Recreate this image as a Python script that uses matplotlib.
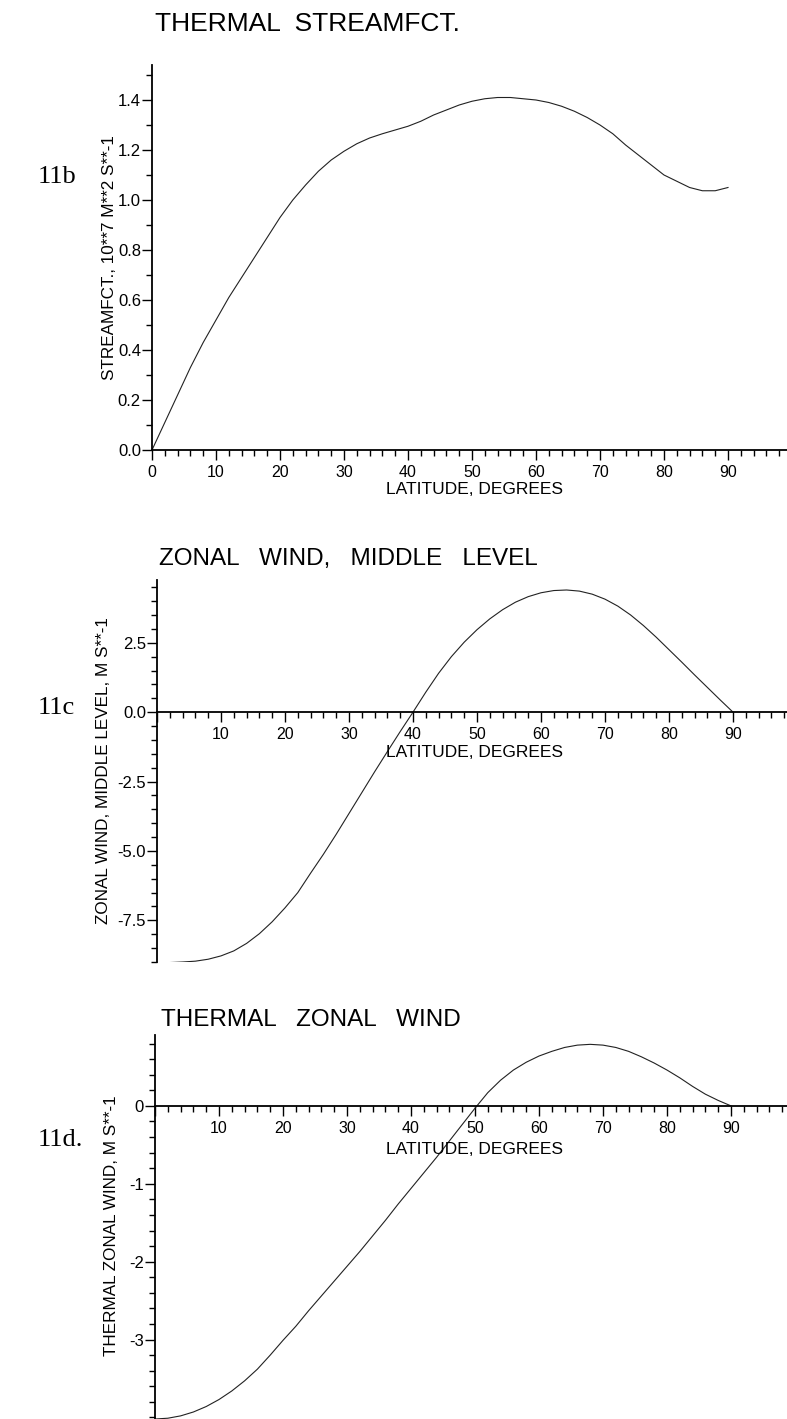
import numpy as np
import matplotlib.pyplot as plt
from matplotlib.ticker import MultipleLocator, FixedLocator

plt.rcParams['font.family'] = 'Liberation Sans'

W, H = 787, 1419

# latitude grid (degrees)
lat = list(range(0, 92, 2))

# 11b: thermal streamfunction, 10**7 m**2 s**-1
stream = [0.0, 0.11, 0.22, 0.33, 0.43, 0.52, 0.61, 0.69, 0.77, 0.85,
          0.93, 1.00, 1.06, 1.115, 1.16, 1.195, 1.225, 1.248, 1.265, 1.28,
          1.295, 1.315, 1.34, 1.36, 1.38, 1.395, 1.405, 1.41, 1.41, 1.405,
          1.40, 1.39, 1.375, 1.355, 1.33, 1.30, 1.265, 1.22, 1.18, 1.14,
          1.10, 1.075, 1.05, 1.037, 1.037, 1.05]

# 11c: zonal wind, middle level, m s**-1
wind_mid = [-9.03, -9.02, -9.0, -8.97, -8.9, -8.78, -8.6, -8.33, -7.98, -7.55,
            -7.05, -6.5, -5.8, -5.12, -4.4, -3.65, -2.9, -2.15, -1.42, -0.7,
            0.0, 0.72, 1.4, 2.0, 2.52, 2.97, 3.36, 3.69, 3.96, 4.16,
            4.3, 4.38, 4.40, 4.36, 4.25, 4.07, 3.82, 3.5, 3.12, 2.7,
            2.25, 1.8, 1.34, 0.89, 0.44, 0.0]

# 11d: thermal zonal wind, m s**-1
wind_th = [-4.02, -4.01, -3.98, -3.93, -3.86, -3.77, -3.66, -3.53, -3.38, -3.20,
           -3.01, -2.83, -2.63, -2.44, -2.25, -2.06, -1.87, -1.67, -1.47, -1.26,
           -1.06, -0.86, -0.66, -0.45, -0.24, -0.03, 0.17, 0.33, 0.46, 0.56,
           0.64, 0.70, 0.75, 0.78, 0.79, 0.78, 0.75, 0.70, 0.63, 0.55,
           0.46, 0.36, 0.25, 0.15, 0.07, 0.0]

xmajor = list(range(0, 100, 10))
xminor = [v for v in range(2, 100, 2) if v % 10]


def axes_px(left, top, bottom):
    return [left / W, 1 - bottom / H, (W - left) / W, (bottom - top) / H]


def fx(x):
    return x / W


def fy(y):
    return 1 - y / H


def style(ax, ylim, ymaj, ymin, ylabels, xlabels, zero_spine):
    ax.set_xlim(0, (W - ax.get_position().x0 * W) / 6.4)
    ax.set_ylim(*ylim)
    for s in ['top', 'right']:
        ax.spines[s].set_visible(False)
    ax.spines['left'].set_linewidth(1.3)
    ax.spines['bottom'].set_linewidth(1.3)
    if zero_spine:
        ax.spines['bottom'].set_position(('data', 0))
    ax.xaxis.set_major_locator(FixedLocator(xmajor))
    ax.xaxis.set_minor_locator(FixedLocator(xminor))
    ax.set_xticklabels(xlabels)
    ax.yaxis.set_major_locator(FixedLocator(ymaj))
    ax.yaxis.set_minor_locator(MultipleLocator(ymin))
    ax.set_yticklabels(ylabels)
    ax.tick_params(axis='y', which='major', length=7, width=1, pad=1, labelsize=12)
    ax.tick_params(axis='y', which='minor', length=4.5, width=1)
    ax.tick_params(axis='x', which='major', length=7, width=1, pad=4, labelsize=11.5)
    ax.tick_params(axis='x', which='minor', length=4.5, width=1)
    ax.patch.set_alpha(0)


fig = plt.figure(figsize=(W / 100, H / 100), dpi=100)

# ---- 11b
ax1 = fig.add_axes(axes_px(152, 65, 450))
ax1.plot(lat, stream, color='#222222', lw=0.8)
style(ax1, (0, 1.54), [0, 0.2, 0.4, 0.6, 0.8, 1.0, 1.2, 1.4], 0.1,
      ['0.0', '0.2', '0.4', '0.6', '0.8', '1.0', '1.2', '1.4'],
      [str(v) for v in xmajor], False)

# ---- 11c
ax2 = fig.add_axes(axes_px(157, 580, 962))
ax2.plot(lat, wind_mid, color='#222222', lw=0.8)
style(ax2, (-9.0, 4.76), [-7.5, -5.0, -2.5, 0.0, 2.5], 0.5,
      ['-7.5', '-5.0', '-2.5', '0.0', '2.5'],
      [''] + [str(v) for v in xmajor[1:]], True)

# ---- 11d
ax3 = fig.add_axes(axes_px(155, 1035, 1419))
ax3.plot(lat, wind_th, color='#222222', lw=0.8)
style(ax3, (-4.02, 0.91), [-3, -2, -1, 0], 0.2,
      ['-3', '-2', '-1', '0'],
      [''] + [str(v) for v in xmajor[1:]], True)

# titles
fig.text(fx(155), fy(24), 'THERMAL  STREAMFCT.', fontsize=19, ha='left', va='center')
fig.text(fx(159), fy(559), 'ZONAL   WIND,   MIDDLE   LEVEL', fontsize=17.5, ha='left', va='center')
fig.text(fx(161), fy(1020), 'THERMAL   ZONAL   WIND', fontsize=17.5, ha='left', va='center')

# x labels
xkw = dict(fontsize=12.5, ha='center', va='center')
fig.text(fx(474), fy(490), 'LATITUDE, DEGREES', **xkw)
fig.text(fx(474), fy(752), 'LATITUDE, DEGREES', **xkw)
fig.text(fx(474), fy(1149), 'LATITUDE, DEGREES', **xkw)

# y labels
ykw = dict(fontsize=12.3, ha='center', va='center', rotation=90)
fig.text(fx(109), fy(258), 'STREAMFCT., 10**7 M**2 S**-1', **ykw)
fig.text(fx(103), fy(771), 'ZONAL WIND, MIDDLE LEVEL, M S**-1', **ykw)
fig.text(fx(112), fy(1226), 'THERMAL ZONAL WIND, M S**-1', **ykw)

# panel tags
pkw = dict(fontsize=19, ha='left', va='center', family='Liberation Serif')
fig.text(fx(38), fy(177), '11b', **pkw)
fig.text(fx(38), fy(708), '11c', **pkw)
fig.text(fx(38), fy(1140), '11d.', **pkw)

fig.savefig('out.png', dpi=100)
